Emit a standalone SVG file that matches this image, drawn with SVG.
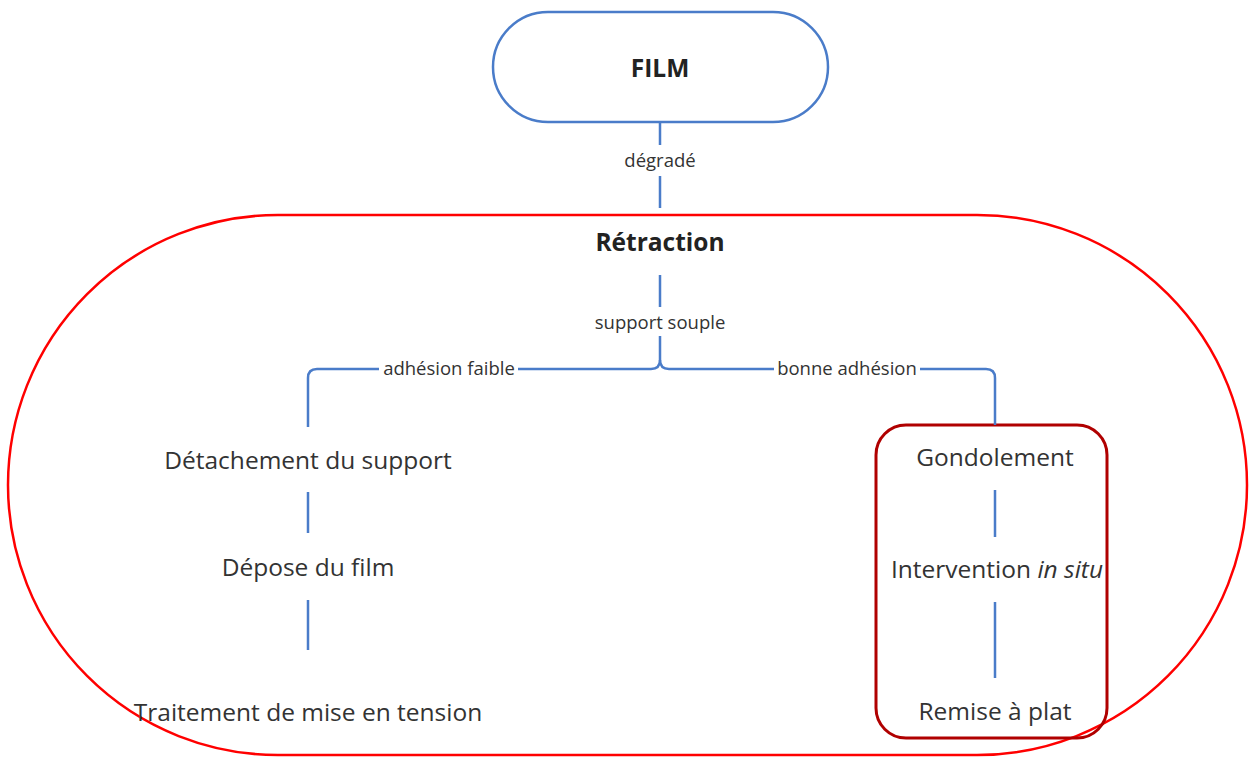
<svg xmlns="http://www.w3.org/2000/svg" width="1249" height="758" viewBox="0 0 1249 758">
<style>
.t{font-family:"Open Sans","Noto Sans",sans-serif;fill:#333;text-anchor:middle}
.n{font-size:24.5px}
.b{font-size:24.5px;font-weight:bold;fill:#222}
.l{font-size:18.5px}
.c{fill:none;stroke:#4a7cc9;stroke-width:2.5}
</style>
<rect width="1249" height="758" fill="#fff"/>
<g id="group-retraction">
<rect x="8" y="215" width="1239" height="540" rx="270" ry="270" fill="none" stroke="#f00" stroke-width="2.5"/>
</g>
<g id="group-bonne">
<rect x="876" y="425" width="231" height="313" rx="30" ry="30" fill="none" stroke="#b00000" stroke-width="3"/>
</g>
<g id="connectors">
<path class="c" d="M660 122V145M660 176V208"/>
<path class="c" d="M660 275V307M660 336V360"/>
<path class="c" d="M660 360Q660 369 651 369H317Q308 369 308 378V427"/>
<path class="c" d="M660 360Q660 369 669 369H986Q995 369 995 378V425"/>
<path class="c" d="M308 492V533M308 600V650"/>
<path class="c" d="M995 490V537M995 602V678"/>
</g>
<g id="labels">
<rect x="612" y="146" width="96" height="29" fill="#fff"/>
<text class="t l" x="660" y="167">dégradé</text>
<rect x="588" y="308" width="144" height="27" fill="#fff"/>
<text class="t l" x="660" y="329">support souple</text>
<rect x="379" y="358" width="139" height="22" fill="#fff"/>
<text class="t l" x="449" y="375">adhésion faible</text>
<rect x="774" y="358" width="146" height="22" fill="#fff"/>
<text class="t l" x="847" y="375">bonne adhésion</text>
</g>
<g id="film">
<rect x="493" y="12" width="335" height="110" rx="55" ry="55" fill="#fff" stroke="#4a7cc9" stroke-width="2.5"/>
<text class="t b" x="660" y="77">FILM</text>
</g>
<g id="retraction"><text class="t b" x="660" y="251">Rétraction</text></g>
<g id="detachement"><text class="t n" x="308" y="469">Détachement du support</text></g>
<g id="depose"><text class="t n" x="308" y="576">Dépose du film</text></g>
<g id="traitement"><text class="t n" x="308" y="721">Traitement de mise en tension</text></g>
<g id="gondolement"><text class="t n" x="995" y="466">Gondolement</text></g>
<g id="intervention"><text class="t n" x="997" y="578">Intervention <tspan font-style="italic">in situ</tspan></text></g>
<g id="remise"><text class="t n" x="995" y="720">Remise à plat</text></g>
</svg>
